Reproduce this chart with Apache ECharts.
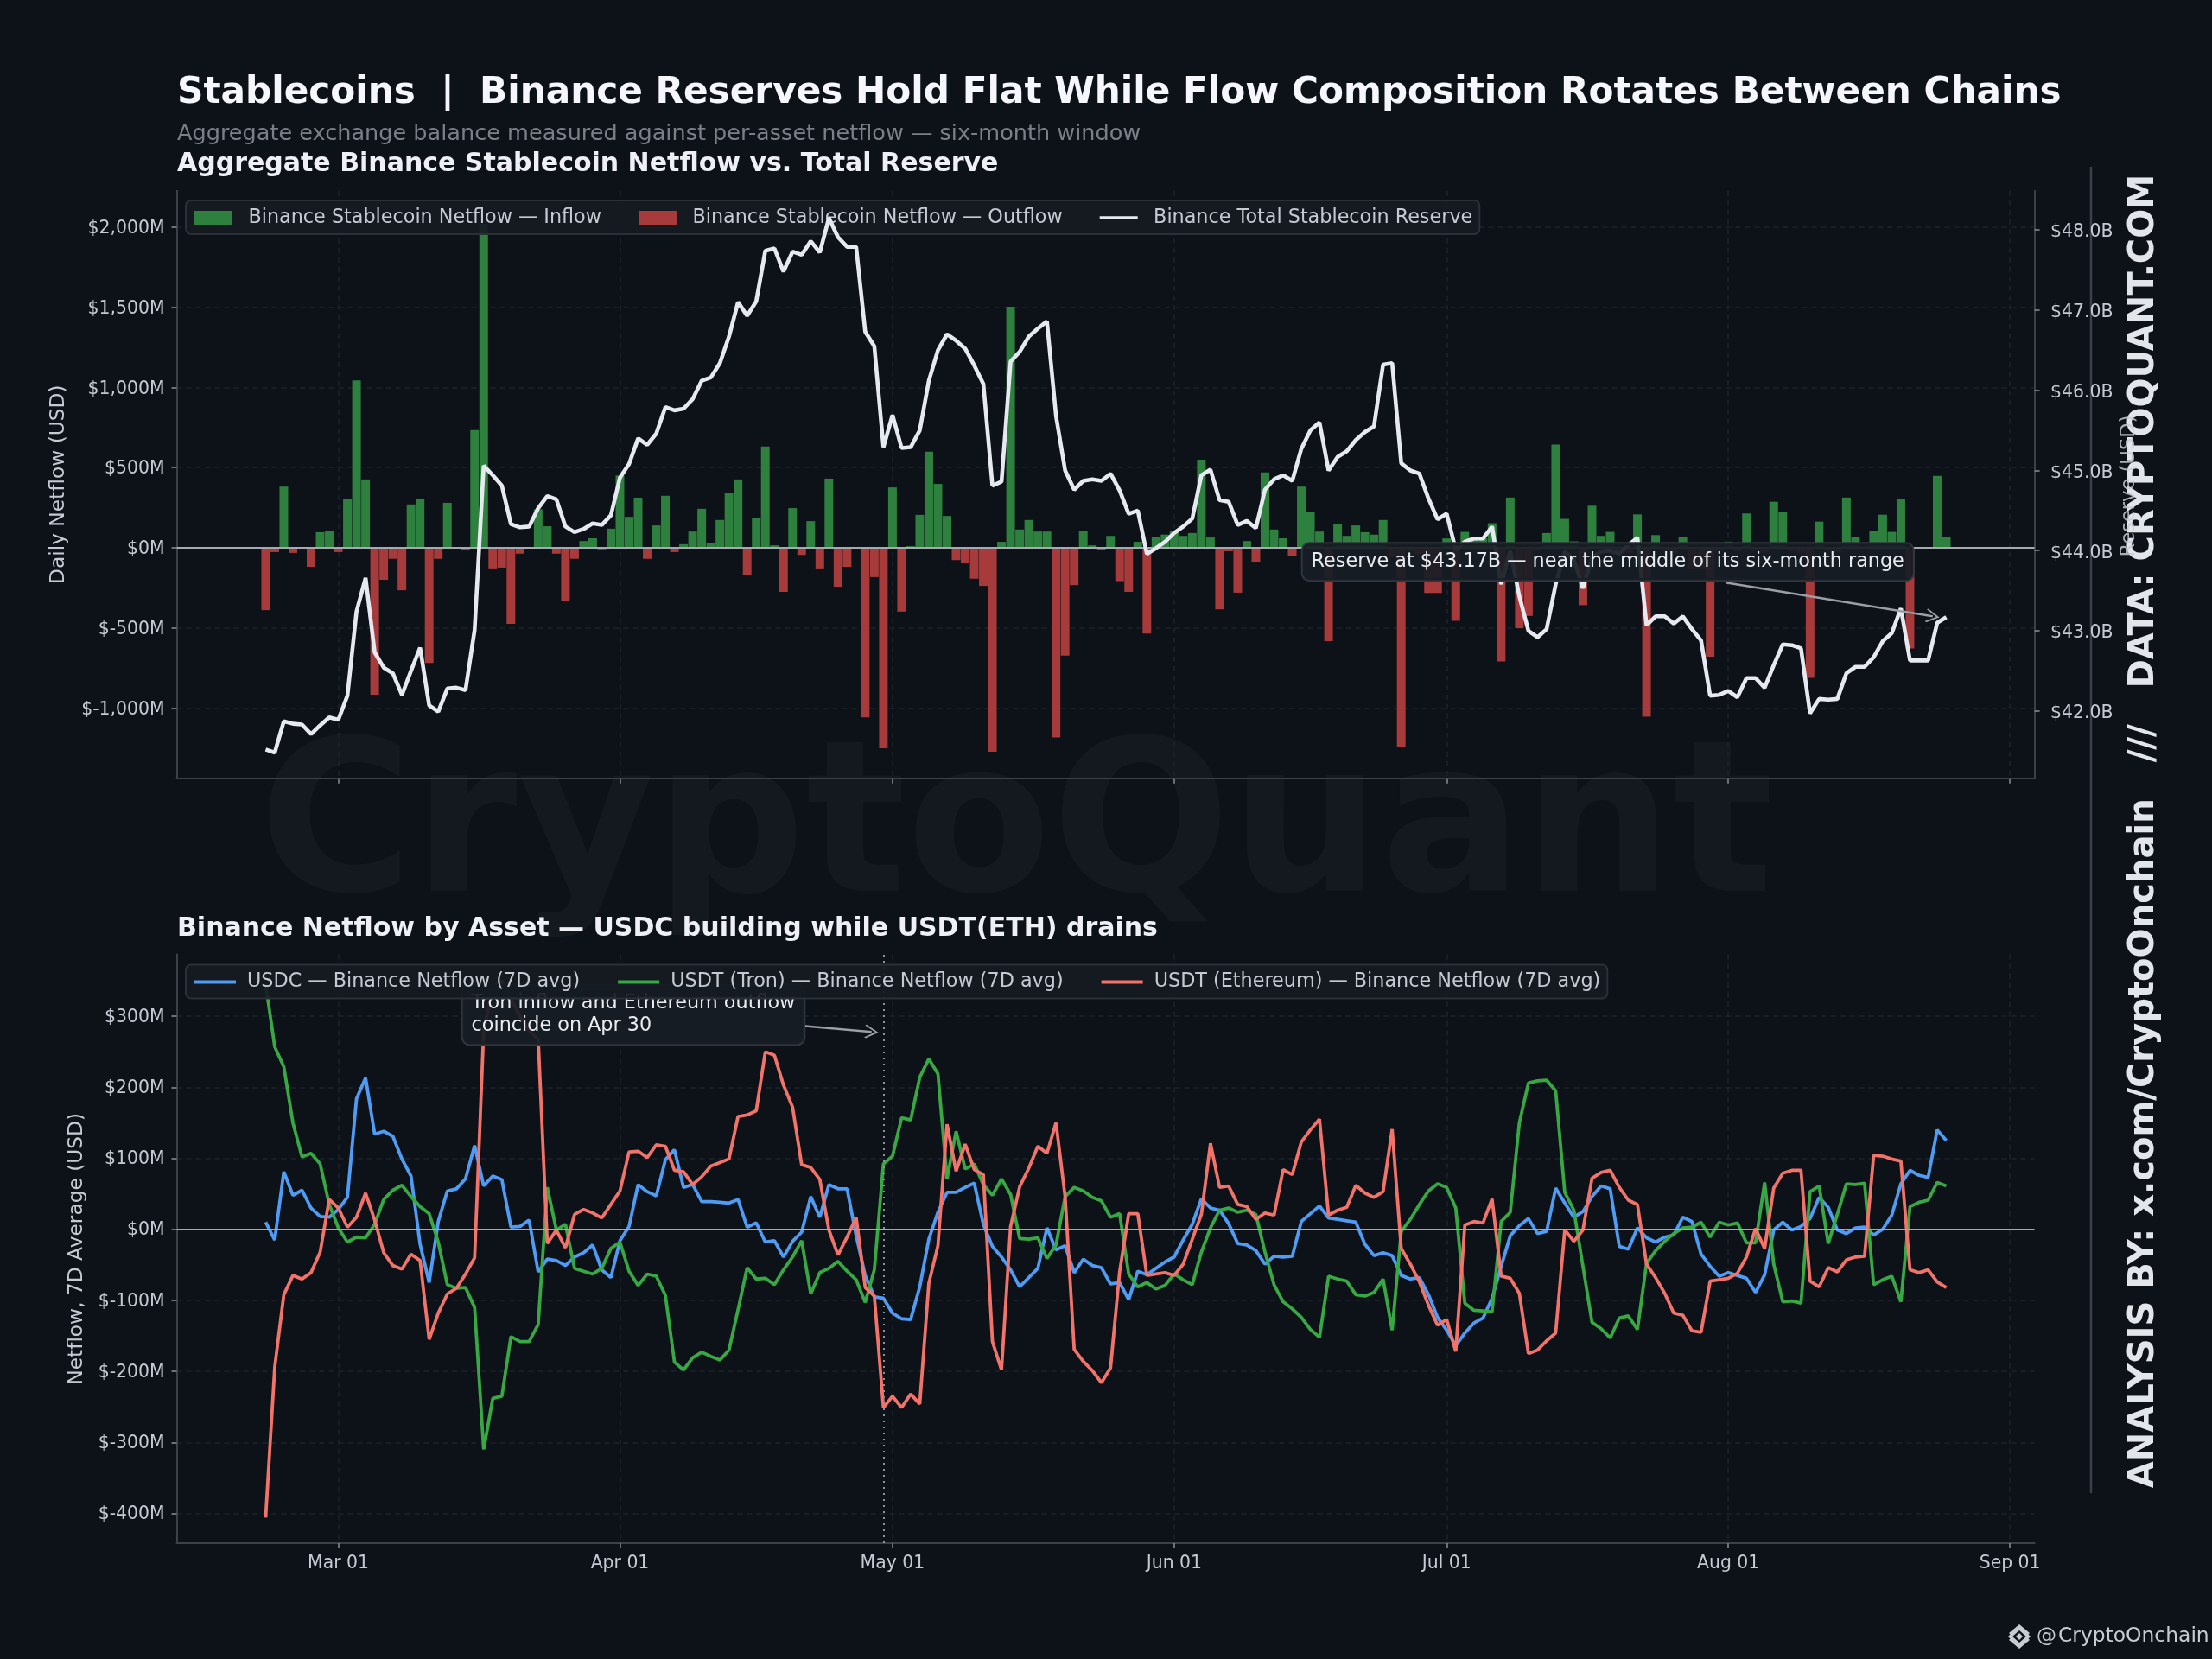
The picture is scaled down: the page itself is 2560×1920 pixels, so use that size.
<!DOCTYPE html>
<html><head><meta charset="utf-8">
<style>html,body{margin:0;padding:0;background:#0d1118}#c{width:2560px;height:1920px}</style>
<script src="https://cdn.jsdelivr.net/npm/echarts@6/dist/echarts.min.js"></script>
</head><body><div id="c"></div>
<script>
const startDate = Date.UTC(2025,1,21);
const monthTicks = ['2025-03-01','2025-04-01','2025-05-01','2025-06-01','2025-07-01','2025-08-01','2025-09-01'];
const monthLabels = ['Mar 01','Apr 01','May 01','Jun 01','Jul 01','Aug 01','Sep 01'];
const netflow = [-389,-27,381,-32,0,-119,97,106,-27,302,1044,426,-916,-200,-69,-265,270,307,-718,-69,280,0,-17,733,2020,-129,-124,-475,-37,0,240,134,-37,-334,-69,42,59,-10,119,450,193,312,-69,139,324,-27,22,101,243,32,173,339,426,-168,183,631,15,-275,247,-45,166,-129,431,-243,
-119,0,-1057,-183,-1250,376,-398,10,205,599,398,198,-77,-97,-193,-238,-1272,37,1502,114,173,101,101,-1183,-673,-233,106,15,-15,74,-208,-275,37,-535,69,82,106,74,92,549,64,-384,-22,-280,42,-87,470,114,59,-54,381,225,101,-582,148,74,139,97,82,173,-60,-1245,-20,-40,-282,-282,58,-455,99,60,60,153,-709,313,-501,-425,-20,92,643,180,40,-358,262,74,99,-20,-30,208,-1053,79,-20,-30,69,-130,-130,-679,-20,38,-20,214,-20,-30,287,226,-20,-30,-811,163,-20,-30,313,66,10,104,206,99,305,-628,5,5,448,66];
const reserve = [41.52,41.48,41.87,41.84,41.83,41.71,41.82,41.92,41.89,42.19,43.24,43.66,42.73,42.54,42.47,42.20,42.50,42.79,42.07,41.99,42.28,42.29,42.26,43.01,45.06,44.94,44.81,44.33,44.29,44.30,44.53,44.68,44.64,44.30,44.23,44.27,44.34,44.32,44.44,44.91,45.08,45.40,45.32,45.46,45.79,45.75,45.77,45.89,46.12,46.16,46.34,46.67,47.10,46.93,47.11,47.74,47.77,47.48,47.73,47.69,47.86,47.72,48.15,47.91,
47.79,47.79,46.73,46.55,45.29,45.69,45.28,45.29,45.50,46.12,46.50,46.70,46.62,46.52,46.31,46.08,44.81,44.86,46.36,46.48,46.67,46.77,46.86,45.68,45.00,44.76,44.87,44.89,44.87,44.96,44.75,44.46,44.50,43.96,44.03,44.11,44.22,44.30,44.40,44.94,45.01,44.63,44.61,44.32,44.37,44.28,44.76,44.89,44.94,44.87,45.27,45.50,45.60,45.00,45.17,45.24,45.38,45.48,45.55,46.32,46.34,45.09,45.00,44.96,44.65,44.39,44.46,44.01,44.11,44.15,44.15,44.30,43.58,44.0,43.43,43.0,42.92,43.02,43.58,43.99,43.89,43.53,43.91,43.99,44.0,43.96,44.07,44.16,43.07,43.18,43.18,43.09,43.18,43.02,42.88,42.19,42.20,42.25,42.17,42.41,42.41,42.29,42.57,42.83,42.82,42.78,41.97,42.15,42.14,42.15,42.47,42.55,42.55,42.67,42.87,42.97,43.28,42.63,42.63,42.63,43.10,43.17];
const usdc = [10,-15,81,48,55,30,18,17,28,45,184,213,134,138,131,99,75,-21,-75,11,54,57,71,118,61,75,70,3,4,13,-60,-42,-44,-51,-39,-33,-22,-57,-68,-16,4,63,53,47,98,112,59,63,39,39,38,37,42,3,9,-18,-16,-39,-17,-4,46,17,63,57,
57,-9,-65,-95,-97,-118,-126,-127,-81,-14,24,52,52,59,65,7,-24,-39,-57,-81,-68,-55,2,-29,-23,-61,-42,-51,-54,-77,-75,-99,-59,-64,-55,-46,-39,-15,7,43,30,27,8,-20,-22,-30,-49,-38,-39,-38,11,22,33,16,14,12,10,-21,-37,-33,-37,-65,-70,-68,-92,-124,-142,-164,-146,-132,-125,-97,-52,-9,5,15,-6,-3,58,37,17,25,46,61,57,-24,-28,2,-12,-18,-11,-8,17,11,-35,-52,-66,-61,-65,-69,-89,-64,-1,10,-1,4,15,45,31,-1,-6,2,3,-8,0,20,64,83,76,73,140,125];
const tron = [345,257,229,150,102,107,92,35,2,-18,-11,-12,7,42,55,62,46,32,22,-18,-78,-83,-82,-110,-310,-238,-235,-151,-158,-158,-134,59,-1,7,-55,-59,-63,-55,-27,-18,-59,-79,-63,-66,-93,-187,-198,-181,-173,-179,-184,-170,-113,-54,-70,-69,-78,-57,-39,-16,-91,-61,-55,-45,
-59,-71,-103,-57,92,103,157,154,214,240,219,71,138,85,92,63,48,71,49,-13,-14,-12,-41,-22,46,59,54,45,40,17,22,-63,-81,-75,-84,-79,-63,-71,-78,-32,2,27,30,24,27,21,-32,-78,-102,-112,-124,-141,-152,-66,-70,-73,-92,-94,-89,-70,-142,-3,14,35,54,64,59,30,-104,-114,-115,-116,11,24,150,206,209,210,195,52,27,-52,-131,-140,-153,-125,-122,-141,-48,-30,-17,-6,2,3,10,-11,10,6,9,-19,-19,66,-49,-102,-101,-104,53,61,-20,21,64,63,65,-78,-71,-66,-102,32,38,41,66,61];
const ethereum = [-406,-194,-92,-65,-70,-61,-32,42,30,3,17,51,13,-33,-51,-56,-35,-44,-155,-118,-91,-83,-63,-40,280,340,350,325,300,279,268,-20,-1,-26,21,28,23,16,35,54,109,110,101,119,117,83,81,63,74,89,94,99,159,161,167,250,245,203,172,91,87,70,-1,-36,
-11,17,-82,-94,-251,-235,-251,-232,-246,-76,-23,148,82,120,84,77,-158,-198,4,60,86,117,107,150,46,-169,-186,-199,-216,-195,-60,22,22,-65,-63,-61,-65,-49,-14,21,121,59,61,35,32,14,23,20,84,77,123,140,155,20,27,31,62,51,45,53,141,-27,-49,-74,-107,-135,-127,-172,6,11,9,43,-66,-69,-90,-175,-170,-157,-146,-1,-17,-1,72,80,83,59,41,35,-49,-68,-90,-118,-121,-143,-145,-73,-71,-69,-62,-39,1,-27,58,79,83,83,-73,-81,-54,-60,-43,-39,-38,104,103,99,96,-57,-61,-57,-74,-82];
const leftTicks = [-1000,-500,0,500,1000,1500,2000];
const rightTicks = [42,43,44,45,46,47,48];
const lowerTicks = [-400,-300,-200,-100,0,100,200,300];

const DAY = 86400000;
const dateAt = i => startDate + i*DAY;
const pairs = arr => arr.map((v,i)=>[dateAt(i),v]);
const FONT = '"DejaVu Sans"';
const tickMs = monthTicks.map(s=>Date.parse(s+'T00:00:00Z'));
const TXT='#c5cad2', GRID='#1e232b', SPINE='#3b4049';
const fmtM = v => '{a|$'+v.toLocaleString('en-US')+'M}';
const tickRich = top => ({a:{color:TXT,fontSize:20.4,fontFamily:FONT,padding:[top,0,0,0]}});
const dash = {color:GRID,width:1.5,type:[6,5]};
function xAxis(gridIndex,labels){
  return {type:'value',gridIndex,min:Date.UTC(2025,1,11,5),max:Date.UTC(2025,8,3,17),scale:true,
    axisLine:{show:true,onZero:false,lineStyle:{color:SPINE,width:2}},
    axisTick:{show:true,length:6,customValues:tickMs,lineStyle:{color:'#8a8f97',width:1.5}},
    splitLine:{show:true,lineStyle:dash},minorTick:{show:false},
    axisLabel:{show:labels,customValues:tickMs,margin:14,color:TXT,fontSize:20.4,fontFamily:FONT,
      formatter:v=>monthLabels[tickMs.indexOf(+v)]||''}};
}
function yAxis(o){
  return Object.assign({type:'value',axisLine:{show:true,onZero:false,lineStyle:{color:SPINE,width:2}},
    splitLine:{show:false},nameLocation:'middle',
    nameTextStyle:{color:TXT,fontSize:23.3,fontFamily:FONT}},o);
}
const chevron='path://M0,0 L11,13 L9.4,14.4 L0,3.6 L-9.4,14.4 L-11,13 Z';
const lineIcon='path://M0,0 L0,0 Z M0,6 L48,6 L48,10 L0,10 Z M48,16 L48,16 Z';
const annoLabel = text=>({show:true,position:'inside',formatter:text,color:'#e8ebf0',fontSize:22.3,fontFamily:FONT,lineHeight:26,align:'left',
  backgroundColor:'rgba(24,29,37,0.93)',borderColor:'#30353e',borderWidth:2,borderRadius:8,padding:[8,10,8,10]});
const dayOf = (s,n)=>Date.parse(s+'T00:00:00Z')+n*DAY;
const ICON='#c7ccd3';
const poly = pts => ({type:'polygon',shape:{points:pts},style:{fill:ICON}});

const option = {
  backgroundColor:'#0d1118', animation:false,
  textStyle:{fontFamily:FONT},
  grid:[{left:204.5,right:205.4,top:220.7,height:680,containLabel:false},{left:204.5,right:205.4,top:1104.6,height:681.4}],
  xAxis:[xAxis(0,false),xAxis(1,true)],
  yAxis:[
    yAxis({gridIndex:0,min:-1437,max:2226,name:'Daily Netflow (USD)',nameGap:125,
      axisTick:{show:true,length:6,customValues:leftTicks,lineStyle:{color:'#8a8f97',width:1.5}},
      axisLabel:{customValues:leftTicks,margin:14,formatter:fmtM,rich:tickRich(4)},
      splitLine:{show:true,lineStyle:dash}}),
    yAxis({gridIndex:0,position:'right',min:41.16,max:48.49,
      axisTick:{show:true,length:6,customValues:rightTicks,lineStyle:{color:'#8a8f97',width:1.5}},
      axisLabel:{customValues:rightTicks,margin:18.5,formatter:v=>'{a|$'+v.toFixed(1)+'B}',rich:tickRich(6)}}),
    yAxis({gridIndex:1,min:-442,max:387,name:'Netflow, 7D Average (USD)',nameGap:104,
      axisTick:{show:true,length:6,customValues:lowerTicks,lineStyle:{color:'#8a8f97',width:1.5}},
      axisLabel:{customValues:lowerTicks,margin:14,formatter:fmtM,rich:tickRich(3)},
      splitLine:{show:true,lineStyle:dash}})
  ],
  legend:[
    {left:215,top:232,padding:[9,8,8,10],itemGap:43,itemWidth:44,itemHeight:16,z:4,
     backgroundColor:'rgba(22,27,35,0.92)',borderColor:'#2a2f38',borderWidth:2,borderRadius:6,
     textStyle:{color:TXT,fontSize:22.3,fontFamily:FONT,padding:[0,0,0,13.4]},
     data:[{name:'Binance Stablecoin Netflow — Inflow',icon:'rect'},{name:'Binance Stablecoin Netflow — Outflow',icon:'rect'},{name:'Binance Total Stablecoin Reserve',icon:lineIcon}]},
    {left:215,top:1116.5,padding:[9,8,8,10],itemGap:44,itemWidth:48,itemHeight:16,z:10,
     backgroundColor:'rgba(22,27,35,0.92)',borderColor:'#2a2f38',borderWidth:2,borderRadius:6,
     textStyle:{color:TXT,fontSize:22.3,fontFamily:FONT,padding:[0,0,0,8]},
     data:[{name:'USDC — Binance Netflow (7D avg)',icon:lineIcon},{name:'USDT (Tron) — Binance Netflow (7D avg)',icon:lineIcon},{name:'USDT (Ethereum) — Binance Netflow (7D avg)',icon:lineIcon}]}
  ],
  series:[
    {name:'Binance Stablecoin Netflow — Inflow',type:'bar',xAxisIndex:0,yAxisIndex:0,barWidth:10,barGap:'-100%',z:2,
     itemStyle:{color:'#2e803e'},data:pairs(netflow).map(p=>[p[0],p[1]>0?p[1]:null]),
     markLine:{silent:true,symbol:'none',z:3,label:{show:false},lineStyle:{color:'#a6a9ae',width:2,type:'solid'},data:[{yAxis:0}]}},
    {name:'Binance Stablecoin Netflow — Outflow',type:'bar',xAxisIndex:0,yAxisIndex:0,barWidth:10,barGap:'-100%',z:2,
     itemStyle:{color:'#a73a3a'},data:pairs(netflow).map(p=>[p[0],p[1]<0?p[1]:null])},
    {name:'Binance Total Stablecoin Reserve',type:'line',xAxisIndex:0,yAxisIndex:1,symbol:'none',z:6,
     lineStyle:{color:'#e6eaf0',width:4.6},itemStyle:{color:'#e6eaf0'},data:pairs(reserve),
     markPoint:{z:7,silent:true,symbol:'rect',symbolSize:1,itemStyle:{color:'transparent'},
       label:annoLabel('Reserve at $43.17B — near the middle of its six-month range'),
       data:[{coord:[dayOf('2025-03-01',106.15),43.86]}]},
     markLine:{z:8,silent:true,symbol:['none',chevron],symbolSize:[16,16],label:{show:false},lineStyle:{color:'#9a9ea5',width:2.5,type:'solid'},
       data:[[{coord:[dayOf('2025-03-01',152.7),43.6]},{coord:[dayOf('2025-03-01',175.5),43.18]}]]}},
    {name:'USDC — Binance Netflow (7D avg)',type:'line',xAxisIndex:1,yAxisIndex:2,symbol:'none',z:3,
     lineStyle:{color:'#4f9cf5',width:3.8},itemStyle:{color:'#4f9cf5'},data:pairs(usdc),
     markLine:{z:6,silent:true,symbol:'none',label:{show:false},
       data:[{yAxis:0,lineStyle:{color:'#a6a9ae',width:2,type:'solid'}},
             {xAxis:dayOf('2025-04-30',0),lineStyle:{color:'#8d9198',width:2,type:[2,5]}}]}},
    {name:'USDT (Tron) — Binance Netflow (7D avg)',type:'line',xAxisIndex:1,yAxisIndex:2,symbol:'none',z:3,
     lineStyle:{color:'#38a845',width:3.8},itemStyle:{color:'#38a845'},data:pairs(tron)},
    {name:'USDT (Ethereum) — Binance Netflow (7D avg)',type:'line',xAxisIndex:1,yAxisIndex:2,symbol:'none',z:3,
     lineStyle:{color:'#f2736a',width:3.8},itemStyle:{color:'#f2736a'},data:pairs(ethereum),
     markPoint:{z:7,silent:true,symbol:'rect',symbolSize:1,itemStyle:{color:'transparent'},
       label:annoLabel('Tron inflow and Ethereum outflow\ncoincide on Apr 30'),
       data:[{coord:[dayOf('2025-03-01',13.7),302]}]},
     markLine:{z:8,silent:true,symbol:['none',chevron],symbolSize:[16,16],label:{show:false},lineStyle:{color:'#9a9ea5',width:2.5,type:'solid'},
       data:[[{coord:[dayOf('2025-03-01',51.4),286]},{coord:[dayOf('2025-04-30',-1.3),278]}]]}}
  ],
  graphic:{elements:[
    {type:'text',z:-5,silent:true,style:{text:'CryptoQuant',x:1176,y:968,align:'center',verticalAlign:'middle',font:'bold 244px "DejaVu Sans"',fill:'#141920'}},
    {type:'text',style:{text:'Stablecoins  |  Binance Reserves Hold Flat While Flow Composition Rotates Between Chains',x:205,y:108.5,verticalAlign:'middle',font:'bold 42.2px "DejaVu Sans"',fill:'#f5f7fc'}},
    {type:'text',style:{text:'Aggregate exchange balance measured against per-asset netflow — six-month window',x:205,y:155.5,verticalAlign:'middle',font:'25.55px "DejaVu Sans"',fill:'#7b8088'}},
    {type:'text',style:{text:'Aggregate Binance Stablecoin Netflow vs. Total Reserve',x:205,y:190.5,verticalAlign:'middle',font:'bold 30px "DejaVu Sans"',fill:'#eef0f6'}},
    {type:'text',style:{text:'Binance Netflow by Asset — USDC building while USDT(ETH) drains',x:205,y:1075.5,verticalAlign:'middle',font:'bold 30px "DejaVu Sans"',fill:'#eef0f6'}},
    {type:'line',shape:{x1:2420,y1:193,x2:2420,y2:1728},style:{stroke:'#3b4049',lineWidth:2.5}},
    {type:'text',x:2482,y:962,rotation:Math.PI/2,style:{text:'ANALYSIS BY: x.com/CryptoOnchain   ///   DATA: CRYPTOQUANT.COM',align:'center',verticalAlign:'middle',font:'bold 40.1px "DejaVu Sans"',fill:'#e2e5ea'}},
    {type:'text',x:2464,y:562.5,rotation:Math.PI/2,style:{text:'Reserve (USD)',align:'center',verticalAlign:'middle',font:'22.6px "DejaVu Sans"',fill:'rgba(197,202,210,0.85)'}},
    poly([[2337,1880],[2349,1890],[2345,1894],[2337,1887],[2329,1894],[2325,1890]]),
    poly([[2337,1908],[2349,1898],[2345,1894],[2337,1901],[2329,1894],[2325,1898]]),
    poly([[2337,1890],[2341,1894],[2337,1898],[2333,1894]]),
    poly([[2327,1891],[2330,1894],[2327,1897],[2324,1894]]),
    poly([[2347,1891],[2350,1894],[2347,1897],[2344,1894]]),
    {type:'text',style:{text:'@',x:2357,y:1894,verticalAlign:'middle',font:'23px "DejaVu Sans"',fill:ICON}},
    {type:'text',style:{text:'CryptoOnchain',x:2382,y:1894,verticalAlign:'middle',font:'23.4px "DejaVu Sans"',fill:ICON}}
  ]}
};
const chart = echarts.init(document.getElementById('c'),null,{width:2560,height:1920,renderer:'canvas'});
chart.setOption(option);
</script></body></html>
